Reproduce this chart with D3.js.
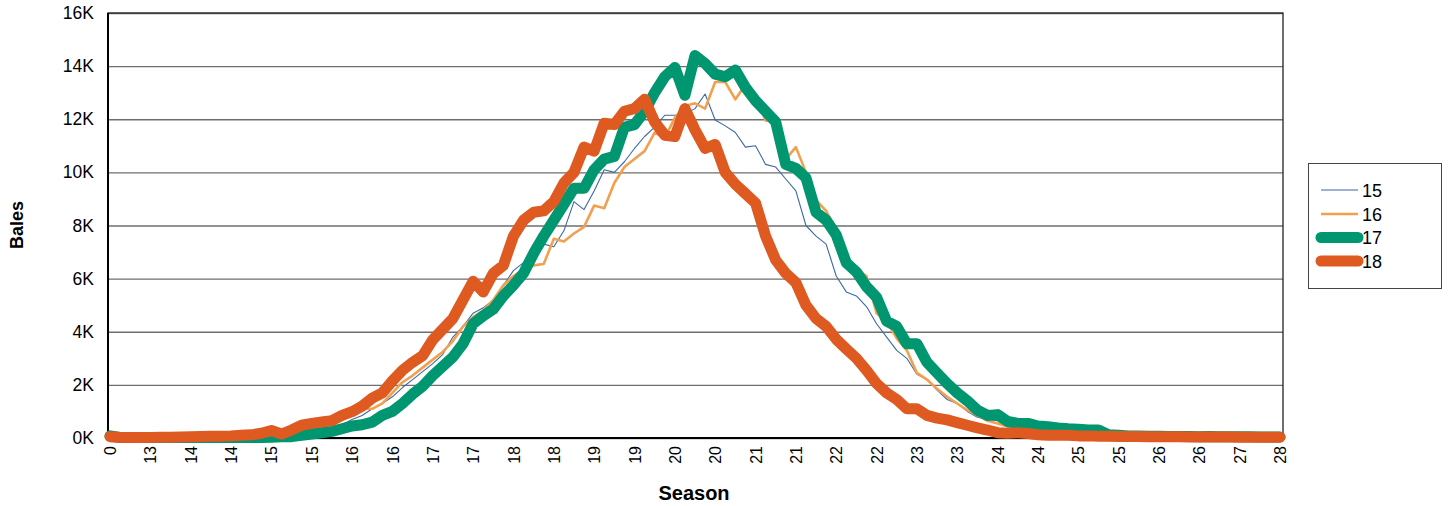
<!DOCTYPE html>
<html>
<head>
<meta charset="utf-8">
<script src="https://cdn.jsdelivr.net/npm/d3@7"></script>
<style>
  html, body { margin: 0; padding: 0; background: #fff; }
  svg { display: block; font-family: "Liberation Sans", Arial, sans-serif; }
</style>
</head>
<body>
<svg id="chart" width="1450" height="506"></svg>
<script>
// ---- DATA (values in thousands of bales) ----
const tickLabels = ["0","13","14","14","15","15","16","16","17","17","18","18","19","19","20","20","21","21","22","22","23","23","24","24","25","25","26","26","27","28"];
const pointsPerLabel = 4;
const seriesNames = ["15", "16", "17", "18"];

const s15 = [0.05,0.02,0.02,0.02,0.02,0.02,0.02,0.02,0.02,0.02,0.02,0.02,0.02,0.02,0.03,0.03,0.04,0.05,0.07,0.1,
  0.15,0.25,0.35,0.5,0.7,0.85,1.1,1.3,1.55,1.9,2.2,2.5,2.8,3.15,3.8,4.2,4.7,4.9,5.2,5.75,
  6.3,6.6,7.3,7.3,7.2,7.8,8.9,8.6,9.3,10.1,10.0,10.4,10.9,11.35,11.7,12.15,12.15,12.2,12.4,12.95,
  11.97,11.75,11.5,10.95,11.0,10.3,10.2,9.75,9.3,8.0,7.6,7.3,6.1,5.5,5.35,4.95,4.3,3.8,3.3,3.0,
  2.4,2.2,1.8,1.45,1.3,1.0,0.78,0.7,0.65,0.42,0.35,0.3,0.25,0.2,
  0.18,0.15,0.13,0.12,0.1,0.1,0.09,0.08,0.08,0.07,0.07,0.06,0.06,0.06,0.05,0.05,0.05,0.05,0.04,0.04,0.04,0.04,0.04];

const s16 = [0.03,0.02,0.02,0.02,0.02,0.02,0.02,0.02,0.02,0.02,0.02,0.02,0.02,0.02,0.03,0.05,0.08,0.12,0.2,0.3,
  0.38,0.45,0.55,0.7,0.95,1.1,1.1,1.3,1.7,2.1,2.35,2.65,2.95,3.25,3.65,4.2,4.55,4.8,5.2,5.75,
  6.1,6.35,6.5,6.55,7.5,7.4,7.7,7.95,8.75,8.65,9.6,10.2,10.5,10.8,11.5,11.3,12.05,12.5,12.6,12.4,
  13.4,13.4,12.75,13.3,12.9,11.95,11.95,10.5,10.95,10.0,8.95,8.55,7.8,6.7,6.35,6.1,4.7,4.4,3.75,3.3,
  2.45,2.2,1.85,1.55,1.3,1.05,0.85,0.65,0.55,0.43,0.35,0.3,0.25,0.2,0.18,0.15,
  0.13,0.12,0.1,0.1,0.09,0.08,0.08,0.07,0.07,0.06,0.06,0.06,0.05,0.05,0.05,0.05,0.04,0.04,0.04,0.04,0.04];

const s17 = [0.08,0.02,0.02,0.02,0.02,0.02,0.02,0.02,0.02,0.02,0.02,0.02,0.02,0.02,0.02,0.02,0.03,0.05,0.05,0.1,
  0.15,0.2,0.25,0.35,0.45,0.5,0.6,0.85,1.0,1.3,1.65,1.95,2.35,2.7,3.05,3.55,4.3,4.6,4.85,5.35,
  5.75,6.2,6.95,7.6,8.2,8.8,9.4,9.4,10.1,10.5,10.6,11.7,11.8,12.3,13.0,13.6,13.95,12.9,14.4,14.1,
  13.7,13.6,13.85,13.2,12.7,12.3,11.9,10.3,10.15,9.8,8.5,8.2,7.65,6.6,6.25,5.7,5.3,4.4,4.2,3.55,
  3.55,2.85,2.45,2.05,1.7,1.4,1.05,0.85,0.88,0.62,0.55,0.55,0.45,0.42,0.38,0.35,0.33,0.3,0.3,
  0.12,0.1,0.08,0.08,0.07,0.07,0.06,0.06,0.06,0.05,0.06,0.05,0.05,0.05,0.05,0.04,0.04,0.04];

const s18 = [0.05,0.02,0.02,0.02,0.02,0.03,0.03,0.04,0.05,0.06,0.07,0.07,0.08,0.1,0.12,0.18,0.28,0.15,0.3,0.48,
  0.55,0.6,0.65,0.85,0.99,1.2,1.5,1.7,2.15,2.55,2.85,3.1,3.7,4.1,4.5,5.2,5.9,5.5,6.2,6.5,
  7.6,8.2,8.5,8.55,8.9,9.6,10.0,10.95,10.8,11.85,11.8,12.3,12.4,12.75,11.9,11.4,11.35,12.4,11.6,10.9,
  11.05,10.0,9.55,9.2,8.85,7.6,6.7,6.2,5.85,5.0,4.5,4.2,3.72,3.35,3.0,2.55,2.05,1.7,1.45,1.1,
  1.1,0.85,0.75,0.68,0.58,0.48,0.38,0.3,0.2,0.18,0.2,0.17,0.12,0.1,
  0.1,0.1,0.08,0.08,0.07,0.07,0.06,0.06,0.06,0.05,0.05,0.05,0.05,0.04,0.04,0.04,0.04,0.04,0.03,0.03,0.03,0.03,0.03];

const yTicks = [0, 2, 4, 6, 8, 10, 12, 14, 16];

// ---- STYLE ----
const colors = { "15": "#3d67a8", "16": "#f2a04e", "17": "#009670", "18": "#de5a21" };
const widths = { "15": 1.1, "16": 2.6, "17": 11, "18": 11 };

const seriesData = { "15": s15, "16": s16, "17": s17, "18": s18 };
const nPoints = s15.length;
const categories = d3.range(nPoints);

const svg = d3.select("#chart");
const plot = { left: 108, right: 1283, top: 13, bottom: 438 };

const x = d3.scalePoint().domain(categories).range([110, 1280]);
const y = d3.scaleLinear().domain([0, 16]).range([plot.bottom, plot.top]);

// gridlines
const yAxis = d3.axisLeft(y).tickValues(yTicks).tickFormat(d => d + "K")
  .tickSize(-(plot.right - plot.left)).tickPadding(14);
const gy = svg.append("g").attr("transform", `translate(${plot.left},0)`).call(yAxis);
gy.select(".domain").remove();
gy.selectAll(".tick line").attr("stroke", "#6e6e6e").attr("stroke-width", 1.3);
gy.selectAll(".tick text").attr("font-size", "17.5px").attr("fill", "#000")
  .attr("font-family", "Liberation Sans, Arial, sans-serif");

// frame
svg.append("rect").attr("x", plot.left).attr("y", plot.top)
  .attr("width", plot.right - plot.left).attr("height", plot.bottom - plot.top)
  .attr("fill", "none").attr("stroke", "#222").attr("stroke-width", 1.3);
svg.append("line").attr("x1", plot.left).attr("x2", plot.left).attr("y1", plot.top).attr("y2", plot.bottom)
  .attr("stroke", "#000").attr("stroke-width", 2);
svg.append("line").attr("x1", plot.left).attr("x2", plot.right).attr("y1", plot.bottom).attr("y2", plot.bottom)
  .attr("stroke", "#000").attr("stroke-width", 2.2);

// x axis labels (every 4th category)
const labelCats = categories.filter(i => i % pointsPerLabel === 0);
const xAxis = d3.axisBottom(x).tickValues(labelCats)
  .tickFormat(i => tickLabels[i / pointsPerLabel]).tickSize(0).tickPadding(0);
const gx = svg.append("g").attr("transform", `translate(0,${plot.bottom})`).call(xAxis);
gx.select(".domain").remove();
gx.selectAll(".tick text")
  .attr("font-size", "16px").attr("fill", "#000")
  .attr("font-family", "Liberation Sans, Arial, sans-serif")
  .attr("transform", "rotate(-90)")
  .attr("text-anchor", "end")
  .attr("x", -8).attr("y", 0).attr("dy", "0.35em");

// lines
const line = d3.line().x((d, i) => x(i)).y(d => y(d));
seriesNames.forEach(name => {
  svg.append("path").datum(seriesData[name])
    .attr("d", line)
    .attr("fill", "none")
    .attr("stroke", colors[name])
    .attr("stroke-width", widths[name])
    .attr("stroke-linejoin", "round")
    .attr("stroke-linecap", "round");
});

// axis titles
svg.append("text").attr("x", 694).attr("y", 500).attr("text-anchor", "middle")
  .attr("font-size", "20px").attr("font-weight", "bold").text("Season");
svg.append("text").attr("transform", "translate(23,225) rotate(-90)").attr("text-anchor", "middle")
  .attr("font-size", "18px").attr("font-weight", "bold").text("Bales");

// legend
const lg = svg.append("g");
lg.append("rect").attr("x", 1308.5).attr("y", 163.5).attr("width", 133).attr("height", 125)
  .attr("fill", "#fff").attr("stroke", "#444").attr("stroke-width", 1);
const legendY = [190, 214, 237.5, 261];
seriesNames.forEach((name, i) => {
  const thick = widths[name] > 5;
  lg.append("line")
    .attr("x1", 1321).attr("x2", 1358)
    .attr("y1", legendY[i]).attr("y2", legendY[i])
    .attr("stroke", colors[name]).attr("stroke-width", widths[name])
    .attr("stroke-linecap", thick ? "round" : "butt");
  lg.append("text").attr("x", 1362).attr("y", legendY[i] + 6.5)
    .attr("font-size", "18px").text(name);
});
</script>
</body>
</html>
